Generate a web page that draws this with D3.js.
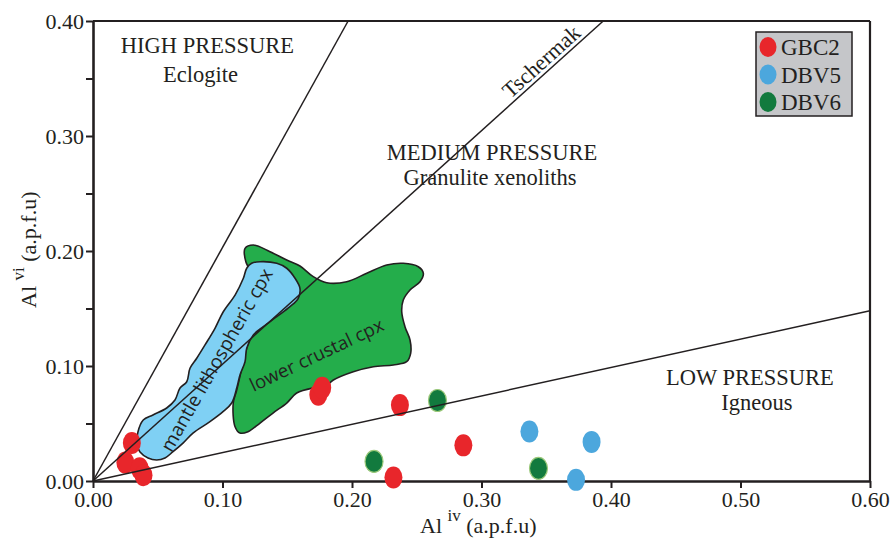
<!DOCTYPE html>
<html>
<head>
<meta charset="utf-8">
<script src="https://cdnjs.cloudflare.com/ajax/libs/d3/7.8.5/d3.min.js"></script>
<style>
  body { margin: 0; background: #fff; }
  svg { display: block; }
  .serif { font-family: "Liberation Serif", "Times New Roman", serif; fill: #231f20; }
  .sans { font-family: "Open Sans", "Noto Sans", sans-serif; fill: #231f20; }
  .axis path, .axis line { stroke: #231f20; }
  .axis text { font-family: "Liberation Serif", serif; font-size: 22px; fill: #231f20; }
</style>
</head>
<body>
<svg id="chart" width="892" height="542"></svg>
<script>
// ---- data (Al iv vs Al vi, a.p.f.u) ----
var gbc2X = [0.030, 0.025, 0.036, 0.039, 0.174, 0.177, 0.237, 0.286, 0.232];
var gbc2Y = [0.033, 0.016, 0.011, 0.005, 0.075, 0.081, 0.066, 0.031, 0.003];
var dbv5X = [0.337, 0.385, 0.373];
var dbv5Y = [0.043, 0.034, 0.001];
var dbv6X = [0.266, 0.217, 0.344];
var dbv6Y = [0.070, 0.017, 0.011];

// field boundaries, drawn from the origin
var boundaryEnds = [[0.197, 0.40], [0.394, 0.40], [0.60, 0.148]];

// mantle lithospheric cpx field outline
var mantleField = [
  [0.1187,0.1850],[0.1225,0.1893],[0.1290,0.1907],[0.1419,0.1893],[0.1496,0.1850],
  [0.1560,0.1763],[0.1598,0.1676],[0.1585,0.1589],[0.1521,0.1516],[0.1419,0.1429],
  [0.1315,0.1342],[0.1238,0.1270],[0.1187,0.1154],[0.1174,0.1037],[0.1135,0.0922],
  [0.1112,0.0817],[0.1071,0.0678],[0.1004,0.0603],[0.0903,0.0516],[0.0772,0.0417],
  [0.0695,0.0330],[0.0618,0.0255],[0.0556,0.0200],[0.0492,0.0183],[0.0425,0.0200],
  [0.0363,0.0252],[0.0340,0.0313],[0.0347,0.0426],[0.0388,0.0530],[0.0463,0.0574],
  [0.0569,0.0635],[0.0633,0.0704],[0.0672,0.0809],[0.0724,0.0863],[0.0749,0.0980],
  [0.0801,0.1067],[0.0865,0.1183],[0.0942,0.1328],[0.1006,0.1472],[0.1097,0.1617],
  [0.1161,0.1763]
];

// lower crustal cpx field outline
var crustField = [
  [0.1174,0.2023],[0.1238,0.2052],[0.1367,0.1994],[0.1496,0.1922],[0.1598,0.1870],
  [0.1701,0.1777],[0.1805,0.1724],[0.1959,0.1733],[0.2114,0.1806],[0.2268,0.1878],
  [0.2396,0.1893],[0.2512,0.1863],[0.2551,0.1806],[0.2525,0.1733],[0.2448,0.1661],
  [0.2396,0.1574],[0.2384,0.1472],[0.2409,0.1342],[0.2448,0.1226],[0.2453,0.1110],
  [0.2422,0.1037],[0.2319,0.1009],[0.2165,0.0994],[0.2010,0.0950],[0.1856,0.0878],
  [0.1792,0.0820],[0.1699,0.0809],[0.1573,0.0765],[0.1496,0.0678],[0.1390,0.0591],
  [0.1290,0.0504],[0.1197,0.0429],[0.1135,0.0417],[0.1097,0.0472],[0.1083,0.0678],
  [0.1110,0.0791],[0.1158,0.1026],[0.1187,0.1157],[0.1251,0.1400],[0.1251,0.1748],
  [0.1181,0.1904]
];

var xTicks = [0, 0.1, 0.2, 0.3, 0.4, 0.5, 0.6];
var yTicks = [0, 0.05, 0.1, 0.15, 0.2, 0.25, 0.3, 0.35, 0.4];

var seriesNames = ["GBC2", "DBV5", "DBV6"];
var seriesColors = ["#e8262b", "#4ca7dd", "#127a3e"];

// ---- scales ----
var svg = d3.select("#chart");
var x = d3.scaleLinear().domain([0, 0.6]).range([93, 870]);
var y = d3.scaleLinear().domain([0, 0.4]).range([481, 21]);

// frame top/right
svg.append("line").attr("x1", x(0)).attr("x2", x(0.6)).attr("y1", y(0.4)).attr("y2", y(0.4))
  .attr("stroke", "#231f20").attr("stroke-width", 2.2);
svg.append("line").attr("x1", x(0.6)).attr("x2", x(0.6)).attr("y1", y(0.4)).attr("y2", y(0))
  .attr("stroke", "#231f20").attr("stroke-width", 2.2);

// axes
var xAxis = svg.append("g").attr("class", "axis")
  .attr("transform", "translate(0," + y(0) + ")")
  .call(d3.axisBottom(x).tickValues(xTicks).tickFormat(d3.format(".2f")).tickSizeInner(7).tickSizeOuter(0).tickPadding(3));
var yAxis = svg.append("g").attr("class", "axis")
  .attr("transform", "translate(" + x(0) + ",0)")
  .call(d3.axisLeft(y).tickValues(yTicks)
    .tickFormat(function(d) { return Math.round(d * 100) % 10 === 0 ? d3.format(".2f")(d) : ""; })
    .tickSizeInner(7).tickSizeOuter(0).tickPadding(2));
svg.selectAll(".axis path.domain").attr("stroke-width", 2.6);
svg.selectAll(".axis .tick line").attr("stroke-width", 2);

// fields
var outline = d3.line().x(function(d) { return x(d[0]); }).y(function(d) { return y(d[1]); })
  .curve(d3.curveCatmullRomClosed.alpha(0.5));
svg.append("path").attr("d", outline(crustField))
  .attr("fill", "#24ad4b").attr("stroke", "#231f20").attr("stroke-width", 1.6);
svg.append("path").attr("d", outline(mantleField))
  .attr("fill", "#7fd0f4").attr("stroke", "#231f20").attr("stroke-width", 1.6);

svg.append("text").attr("class", "sans")
  .attr("transform", "translate(" + x(0.0955) + "," + y(0.1052) + ") rotate(-60.4)")
  .attr("text-anchor", "middle").attr("dy", "0.35em")
  .style("font-size", "19px").text("mantle lithospheric cpx");
svg.append("text").attr("class", "sans")
  .attr("transform", "translate(" + x(0.1727) + "," + y(0.1096) + ") rotate(-25.3)")
  .attr("text-anchor", "middle").attr("dy", "0.35em")
  .style("font-size", "18.5px").text("lower crustal cpx");

// points
var pts = [];
gbc2X.forEach(function(v, i) { pts.push({s: 0, x: v, y: gbc2Y[i]}); });
dbv5X.forEach(function(v, i) { pts.push({s: 1, x: v, y: dbv5Y[i]}); });
dbv6X.forEach(function(v, i) { pts.push({s: 2, x: v, y: dbv6Y[i]}); });

svg.append("g").selectAll("ellipse").data(pts).enter().append("ellipse")
  .attr("cx", function(d) { return x(d.x); })
  .attr("cy", function(d) { return y(d.y); })
  .attr("rx", 9).attr("ry", 11)
  .attr("fill", function(d) { return seriesColors[d.s]; })
  .attr("stroke", function(d) { return d.s === 2 ? "#9cc97a" : "none"; })
  .attr("stroke-width", 1.2);

// boundary lines
svg.append("g").selectAll("line").data(boundaryEnds).enter().append("line")
  .attr("x1", x(0)).attr("y1", y(0))
  .attr("x2", function(d) { return x(d[0]); })
  .attr("y2", function(d) { return y(d[1]); })
  .attr("stroke", "#231f20").attr("stroke-width", 1.5);

// region labels
var regionText = [
  {t: "HIGH PRESSURE", x: 0.0883, y: 0.372},
  {t: "Eclogite", x: 0.0830, y: 0.347},
  {t: "MEDIUM PRESSURE", x: 0.3081, y: 0.2792},
  {t: "Granulite xenoliths", x: 0.3066, y: 0.2574},
  {t: "LOW PRESSURE", x: 0.5073, y: 0.0835},
  {t: "Igneous", x: 0.5127, y: 0.0617}
];
svg.append("g").selectAll("text").data(regionText).enter().append("text")
  .attr("class", "serif").style("font-size", "22.5px")
  .attr("text-anchor", "middle")
  .attr("x", function(d) { return x(d.x); })
  .attr("y", function(d) { return y(d.y); })
  .text(function(d) { return d.t; });

// Tschermak label along the line
var tAng = Math.atan2(y(0) - y(boundaryEnds[1][1]), x(boundaryEnds[1][0]) - x(0)) * 180 / Math.PI;
var tx = 0.352, ty = tx * boundaryEnds[1][1] / boundaryEnds[1][0];
svg.append("text").attr("class", "serif").style("font-size", "22px")
  .attr("text-anchor", "middle")
  .attr("transform", "translate(" + x(tx) + "," + y(ty) + ") rotate(" + (-tAng) + ")")
  .attr("dy", -4)
  .text("Tschermak");

// axis titles
var xt = svg.append("text").attr("class", "serif").style("font-size", "22px")
  .attr("x", 420).attr("y", 533);
xt.append("tspan").text("Al ");
xt.append("tspan").attr("dy", -12).style("font-size", "17px").text("iv");
xt.append("tspan").attr("dy", 12).text(" (a.p.f.u)");

var yt = svg.append("text").attr("class", "serif").style("font-size", "22px")
  .attr("transform", "translate(36,308) rotate(-90)");
yt.append("tspan").text("Al ");
yt.append("tspan").attr("dy", -12).style("font-size", "17px").text("vi");
yt.append("tspan").attr("dy", 12).text(" (a.p.f.u)");

// legend
var lg = svg.append("g").attr("transform", "translate(756,32)");
lg.append("rect").attr("width", 96).attr("height", 84)
  .attr("fill", "#c5c6c9").attr("stroke", "#231f20").attr("stroke-width", 1.5);
var li = lg.selectAll("g.item").data(seriesNames).enter().append("g")
  .attr("transform", function(d, i) { return "translate(0," + (15 + i * 27.5) + ")"; });
li.append("ellipse").attr("cx", 12).attr("cy", 0).attr("rx", 8.5).attr("ry", 10)
  .attr("fill", function(d, i) { return seriesColors[i]; });
li.append("text").attr("class", "serif").style("font-size", "23px")
  .attr("x", 25).attr("y", 8).text(function(d) { return d; });
</script>
</body>
</html>
